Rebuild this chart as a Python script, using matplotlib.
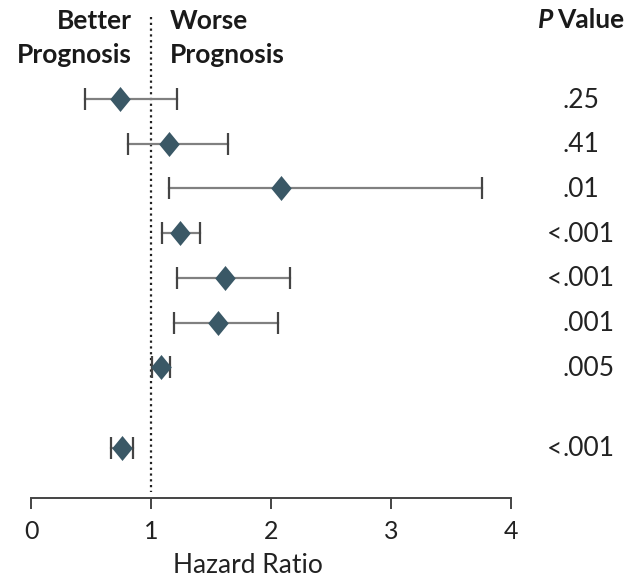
import matplotlib
matplotlib.use("Agg")
import matplotlib.pyplot as plt
from matplotlib.path import Path

# Hazard ratios with 95% CI and P values
hr = [0.74, 1.15, 2.08, 1.24, 1.62, 1.56, 1.08, 0.76]
ci_low = [0.45, 0.81, 1.15, 1.09, 1.22, 1.19, 1.01, 0.67]
ci_high = [1.22, 1.64, 3.76, 1.41, 2.16, 2.06, 1.16, 0.85]
p_values = [".25", ".41", ".01", "<.001", "<.001", ".001", ".005", "<.001"]
row_pos = [0, 1, 2, 3, 4, 5, 6, 7.8]
xticks = [0, 1, 2, 3, 4]

plt.rcParams["font.family"] = ["Lato", "DejaVu Sans"]

fig = plt.figure(figsize=(6.28, 5.79), dpi=100)
W, H = 628, 579
ax_left, ax_right = 31, 511
ax_top, ax_bottom = 17, 498
ax = fig.add_axes([ax_left / W, 1 - ax_bottom / H,
                   (ax_right - ax_left) / W, (ax_bottom - ax_top) / H])

pitch = 44.7
row0 = 99
ax.set_xlim(0, 4)
ax.set_ylim((ax_bottom - row0) / pitch, (ax_top - row0) / pitch)

# reference line at HR = 1
ax.plot([1, 1], [(ax_top - row0) / pitch, (492 - row0) / pitch],
        linestyle=(0, (1, 1.6)), color="#222222", linewidth=1.6, zorder=1)

diamond = Path([(0, 1), (0.82, 0), (0, -1), (-0.82, 0), (0, 1)],
               [Path.MOVETO, Path.LINETO, Path.LINETO, Path.LINETO, Path.CLOSEPOLY])

for y, m, lo, hi in zip(row_pos, hr, ci_low, ci_high):
    ax.plot([lo, hi], [y, y], color="#808080", linewidth=1.6, zorder=2)
    ax.plot([lo, hi], [y, y], linestyle="none", marker="|", markersize=16,
            markeredgewidth=1.6, color="#444444", zorder=2)
    ax.plot([m], [y], marker=diamond, markersize=18, color="#3a5866",
            markeredgewidth=0, linestyle="none", zorder=3)

for s in ["top", "right", "left"]:
    ax.spines[s].set_visible(False)
ax.spines["bottom"].set_color("#444444")
ax.spines["bottom"].set_linewidth(1.4)
ax.set_yticks([])
ax.set_xticks(xticks)
ax.set_xticklabels([str(t) for t in xticks], fontsize=18, color="#222222")
ax.tick_params(axis="x", length=8, width=1.4, color="#444444", pad=8)


def fx(px):
    return px / W


def fy(py):
    return 1 - py / H


fig.text(fx(248), fy(573), "Hazard Ratio", ha="center", va="baseline",
         fontsize=19, color="#222222")

hdr = dict(fontsize=19, fontweight="bold", color="#1a1a1a", va="baseline")
fig.text(fx(132), fy(29), "Better", ha="right", **hdr)
fig.text(fx(132), fy(63), "Prognosis", ha="right", **hdr)
fig.text(fx(170), fy(29), "Worse", ha="left", **hdr)
fig.text(fx(170), fy(63), "Prognosis", ha="left", **hdr)
fig.text(fx(538), fy(28), "P", ha="left", fontstyle="italic", **hdr)
fig.text(fx(624), fy(28), "Value", ha="right", **hdr)

# P values aligned on the decimal point
dec_x = 562
for y, p in zip(row_pos, p_values):
    py = row0 + y * pitch + 1
    if p.startswith("<"):
        fig.text(fx(dec_x), fy(py), "<", ha="right", va="center",
                 fontsize=19, color="#222222")
        p = p[1:]
    fig.text(fx(dec_x), fy(py), p, ha="left", va="center",
             fontsize=19, color="#222222")

fig.savefig("out.png", dpi=100)
